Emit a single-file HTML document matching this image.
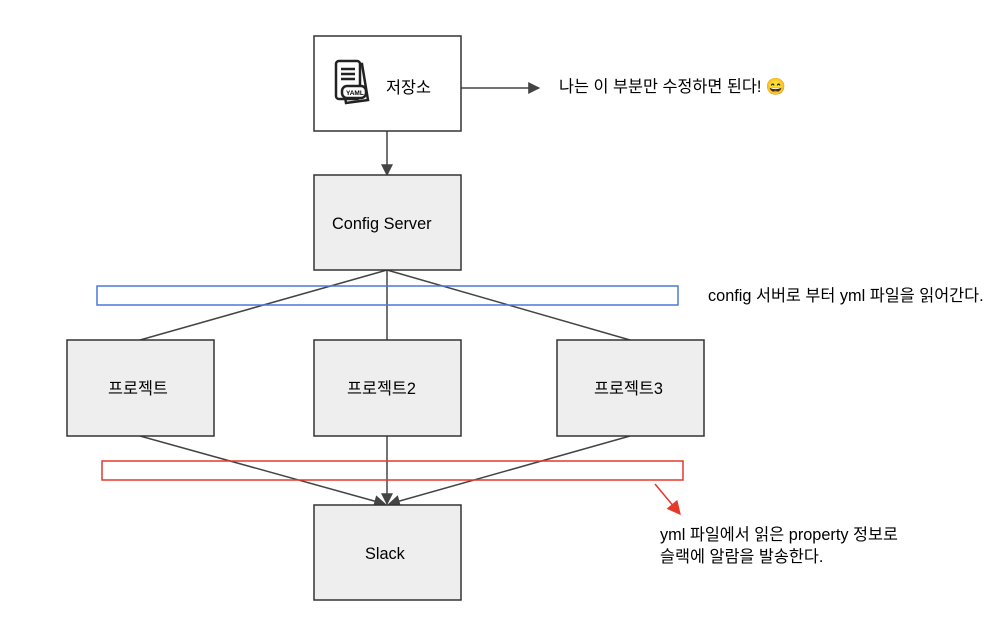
<!DOCTYPE html>
<html><head><meta charset="utf-8"><style>
body{margin:0;background:#fff;}
svg text{font-family:"Liberation Sans","Noto Sans CJK KR",sans-serif;font-size:16.3px;fill:#000;}
</style></head><body>
<svg width="1007" height="634" viewBox="0 0 1007 634" xmlns="http://www.w3.org/2000/svg">
<defs>
<marker id="a" viewBox="0 0 10 10" refX="9" refY="5" markerWidth="10" markerHeight="10" markerUnits="userSpaceOnUse" orient="auto"><path d="M0,0L10,5L0,10z" fill="#444"/></marker>
<marker id="a2" viewBox="0 0 10 10" refX="9" refY="5" markerWidth="14" markerHeight="12" markerUnits="userSpaceOnUse" orient="auto"><path d="M0,0L10,5L0,10z" fill="#444"/></marker>
<marker id="r" viewBox="0 0 10 10" refX="9" refY="5" markerWidth="16" markerHeight="14" markerUnits="userSpaceOnUse" orient="auto"><path d="M0,0L10,5L0,10z" fill="#e5392a"/></marker>
</defs>
<g stroke="#444" stroke-width="1.5" fill="none">
<line x1="461" y1="88" x2="539" y2="88" marker-end="url(#a2)"/>
<line x1="387" y1="131" x2="387" y2="175" marker-end="url(#a2)"/>
<line x1="387" y1="270" x2="140" y2="340"/>
<line x1="387" y1="270" x2="387" y2="340"/>
<line x1="387" y1="270" x2="630" y2="340"/>
<line x1="140" y1="436" x2="385" y2="504" marker-end="url(#a2)"/>
<line x1="387" y1="436" x2="387" y2="504" marker-end="url(#a2)"/>
<line x1="630" y1="436" x2="389" y2="504" marker-end="url(#a2)"/>
</g>
<g stroke="#333" stroke-width="1.5">
<rect x="314" y="36" width="147" height="95" fill="#fff"/>
<rect x="314" y="175" width="147" height="95" fill="#eee"/>
<rect x="67" y="340" width="147" height="96" fill="#eee"/>
<rect x="314" y="340" width="147" height="96" fill="#eee"/>
<rect x="557" y="340" width="147" height="96" fill="#eee"/>
<rect x="314" y="505" width="147" height="95" fill="#eee"/>
</g>
<rect x="97" y="286" width="581" height="19" fill="none" stroke="#4a78d8" stroke-width="1.5"/>
<rect x="102" y="461" width="581" height="19" fill="none" stroke="#e5392a" stroke-width="1.5"/>
<line x1="655" y1="484" x2="680" y2="514" stroke="#e5392a" stroke-width="1.5" marker-end="url(#r)"/>
<!-- yaml icon -->
<g stroke="#222" stroke-width="2.5" fill="#fff">
<path d="M340,66 l22,-2 l6,36 l-22,3z"/>
<rect x="336" y="61" width="24" height="38" rx="3"/>
<line x1="341" y1="69" x2="355" y2="69"/><line x1="341" y1="74" x2="355" y2="74"/><line x1="341" y1="79" x2="355" y2="79"/>
<rect x="342" y="86" width="24" height="12" rx="5"/>
</g>
<text x="346" y="95" style="font-size:6.5px;font-weight:bold">YAML</text>
<text x="386" y="93">저장소</text>
<text x="332" y="229">Config Server</text>
<text x="108" y="394">프로젝트</text>
<text x="347" y="394">프로젝트2</text>
<text x="594" y="394">프로젝트3</text>
<text x="365" y="559">Slack</text>
<text x="559" y="92">나는 이 부분만 수정하면 된다! 😄</text>
<text x="708" y="301">config 서버로 부터 yml 파일을 읽어간다.</text>
<text x="660" y="540">yml 파일에서 읽은 property 정보로</text>
<text x="660" y="562">슬랙에 알람을 발송한다.</text>
</svg>
</body></html>
